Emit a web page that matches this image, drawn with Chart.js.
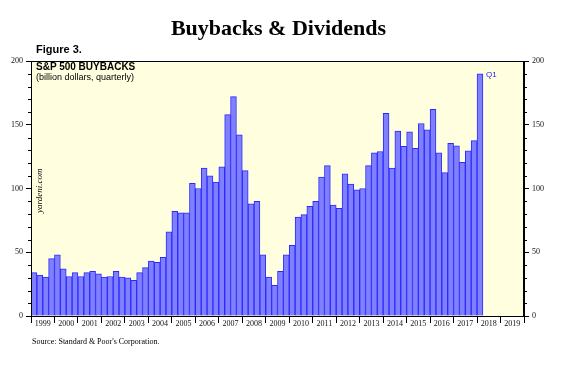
<!DOCTYPE html>
<html>
<head>
<meta charset="utf-8">
<script src="https://cdn.jsdelivr.net/npm/chart.js@4"></script>
<style>
  html, body { margin: 0; padding: 0; background: #fff; }
  #wrap { position: relative; width: 563px; height: 372px; overflow: hidden; }
  #wrap canvas { position: absolute; left: 0; top: 0; }
  .txt { position: absolute; white-space: nowrap; color: #000; }
  #title { left: 0; width: 557px; top: 15px; text-align: center; font: bold 22px 'Liberation Serif', serif; }
  #fig { left: 36px; top: 43px; font: bold 11px 'Liberation Sans', Arial, sans-serif; }
  #name { left: 36px; top: 61px; font: bold 10px 'Liberation Sans', Arial, sans-serif; }
  #unit { left: 36px; top: 72px; font: 9px 'Liberation Sans', Arial, sans-serif; }
  #src { left: 32px; top: 337px; font: 8px 'Liberation Serif', serif; }
  #yard { left: 34px; top: 213px; font: italic 9px 'Liberation Serif', serif; transform: rotate(-90deg); transform-origin: 0 0; }
</style>
</head>
<body>
<div id="wrap">
  <canvas id="chart" width="563" height="372"></canvas>
  <div class="txt" id="title">Buybacks &amp; Dividends</div>
  <div class="txt" id="fig">Figure 3.</div>
  <div class="txt" id="name">S&amp;P 500 BUYBACKS</div>
  <div class="txt" id="unit">(billion dollars, quarterly)</div>
  <div class="txt" id="yard">yardeni.com</div>
  <div class="txt" id="src">Source: Standard &amp; Poor's Corporation.</div>
</div>
<script>
// years shown on the x axis (each year = 4 quarters)
const years = [1999, 2000, 2001, 2002, 2003, 2004, 2005, 2006, 2007, 2008, 2009,
  2010, 2011, 2012, 2013, 2014, 2015, 2016, 2017, 2018, 2019];
const quarterLabels = [];
years.forEach(y => ['Q1', 'Q2', 'Q3', 'Q4'].forEach(q => quarterLabels.push(y + ' ' + q)));

// S&P 500 buybacks, billion dollars, 1999 Q1 .. 2018 Q1
const buybacks = [
  34, 32, 30.5, 45,        // 1999
  48, 37, 31, 34,          // 2000
  31, 34, 35, 33,          // 2001
  30.5, 31, 35, 30.5,      // 2002
  30, 28, 34, 38,          // 2003
  43, 42, 46, 66,          // 2004
  82, 81, 81, 104,         // 2005
  100, 116, 110, 105,      // 2006
  117, 158, 172, 142,      // 2007
  114, 88, 90, 48,         // 2008
  30.5, 24, 35, 48,        // 2009
  55.5, 77.5, 79.5, 86,    // 2010
  90, 109, 118, 87,        // 2011
  84.5, 111.5, 103.5, 99,  // 2012
  100, 118, 128, 129,      // 2013
  159, 116, 145, 133,      // 2014
  144.5, 131.5, 151, 146,  // 2015
  162, 128, 112.5, 135.5,  // 2016
  133.5, 120.5, 129.5, 137.5, // 2017
  190                      // 2018 Q1
];
const lastLabel = 'Q1';
const yTicks = [0, 50, 100, 150, 200];

const serif = "'Liberation Serif', 'Times New Roman', serif";

const framePlugin = {
  id: 'frame',
  beforeDraw: (chart) => {
    const { ctx, chartArea: a } = chart;
    ctx.save();
    ctx.fillStyle = '#ffffe0';
    ctx.fillRect(a.left, a.top, a.right - a.left, a.bottom - a.top);
    ctx.restore();
  },
  afterDraw: (chart) => {
    const { ctx, chartArea: a } = chart;
    const y = chart.scales.y;
    ctx.save();
    ctx.strokeStyle = '#000';
    ctx.lineWidth = 1;
    ctx.strokeRect(Math.round(a.left) + 0.5, Math.round(a.top) + 0.5,
      Math.round(a.right - a.left) - 1, Math.round(a.bottom - a.top));
    // minor ticks every 10
    ctx.beginPath();
    for (let v = 10; v < 200; v += 10) {
      if (v % 50 === 0) continue;
      const py = Math.round(y.getPixelForValue(v)) + 0.5;
      ctx.moveTo(a.left - 3, py); ctx.lineTo(a.left, py);
      ctx.moveTo(a.right, py); ctx.lineTo(a.right + 3, py);
    }
    ctx.stroke();
    // label on the latest bar
    const meta = chart.getDatasetMeta(0);
    const bar = meta.data[buybacks.length - 1];
    if (bar) {
      ctx.fillStyle = '#2020ff';
      ctx.font = "8px 'Liberation Sans', Arial, sans-serif";
      ctx.textBaseline = 'middle';
      ctx.fillText(lastLabel, bar.x + bar.width / 2 + 3, bar.y + 1);
    }
    ctx.restore();
  }
};

new Chart(document.getElementById('chart'), {
  type: 'bar',
  data: {
    labels: quarterLabels,
    datasets: [{
      data: buybacks,
      backgroundColor: '#8080ff',
      borderColor: '#2a2aff',
      borderWidth: 1,
      barPercentage: 1,
      categoryPercentage: 1,
      xAxisID: 'x',
      yAxisID: 'y'
    }]
  },
  options: {
    responsive: false,
    animation: false,
    events: [],
    layout: { padding: { top: 61, left: 0, right: 0, bottom: 0 } },
    plugins: { legend: { display: false }, tooltip: { enabled: false } },
    scales: {
      x: { type: 'category', display: false, offset: true },
      x2: {
        type: 'linear', position: 'bottom', min: 1999, max: 2020, offset: false,
        afterFit: s => { s.height = 56; },
        border: { display: true, color: '#000' },
        grid: {
          offset: false, drawOnChartArea: false, tickLength: 7,
          tickColor: c => (c.tick && c.tick.value % 1 === 0) ? '#000' : 'rgba(0,0,0,0)'
        },
        ticks: {
          stepSize: 0.5, autoSkip: false, maxRotation: 0, padding: -4,
          color: '#111', font: { family: serif, size: 8 },
          callback: v => (v % 1 === 0.5 && years.includes(Math.floor(v))) ? String(Math.floor(v)) : ''
        }
      },
      y: {
        position: 'left', min: 0, max: 200,
        afterFit: s => { s.width = 31; },
        afterBuildTicks: s => { s.ticks = yTicks.map(v => ({ value: v })); },
        border: { display: true, color: '#000' },
        grid: { drawOnChartArea: false, tickLength: 5, tickColor: '#000' },
        ticks: { padding: 3, color: '#111', font: { family: serif, size: 8 } }
      },
      y2: {
        position: 'right', min: 0, max: 200,
        afterFit: s => { s.width = 39; },
        afterBuildTicks: s => { s.ticks = yTicks.map(v => ({ value: v })); },
        border: { display: true, color: '#000' },
        grid: { drawOnChartArea: false, tickLength: 5, tickColor: '#000' },
        ticks: { padding: 3, color: '#111', font: { family: serif, size: 8 } }
      }
    }
  },
  plugins: [framePlugin]
});
</script>
</body>
</html>
